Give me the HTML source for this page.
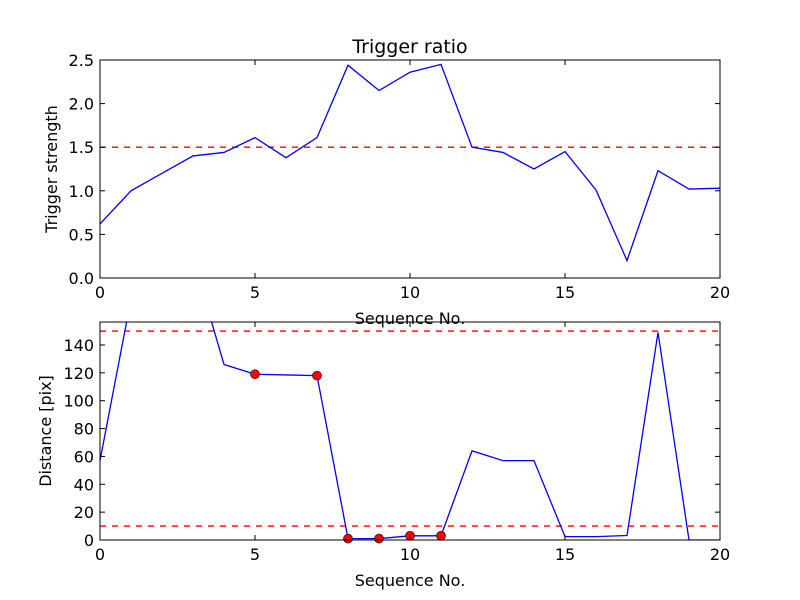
<!DOCTYPE html>
<html><head><meta charset="utf-8"><style>
body{margin:0;background:#fff;}
svg{display:block;font-family:"DejaVu Sans","Liberation Sans",sans-serif;}
</style></head><body>
<svg id="chart" width="800" height="600" xmlns="http://www.w3.org/2000/svg">
<rect width="800" height="600" fill="#fff"/>
</svg>
<script>
const seq = [0,1,2,3,4,5,6,7,8,9,10,11,12,13,14,15,16,17,18,19,20];
const triggerStrength = [0.62,1.0,1.2,1.4,1.44,1.61,1.38,1.61,2.44,2.15,2.36,2.45,1.5,1.44,1.25,1.45,1.01,0.2,1.23,1.02,1.03];
const triggerThreshold = 1.5;
const distance = [57,173,190,202,126,119,118.5,118,1,1,3,3,64,57,57,2.4,2.4,3.2,149,0,0];
const distanceMarked = [5,7,8,9,10,11];
const distanceThresholds = [150,10];
const xTicks = [0,5,10,15,20];
const topYTicks = [0,0.5,1.0,1.5,2.0,2.5];
const botYTicks = [0,20,40,60,80,100,120,140];

const NS='http://www.w3.org/2000/svg';
const svg=document.getElementById('chart');
function mk(tag,attrs,parent){const e=document.createElementNS(NS,tag);for(const k in attrs)e.setAttribute(k,attrs[k]);(parent||svg).appendChild(e);return e;}

function panel(cfg){
  const L=100,R=720,T=cfg.top,B=cfg.bottom;
  const xs=v=>L+(v-0)/(20-0)*(R-L);
  const ys=v=>B-(v-cfg.ymin)/(cfg.ymax-cfg.ymin)*(B-T);
  const g=mk('g',{});
  
  
  const cid='clip-'+cfg.name;
  const cp=mk('clipPath',{id:cid},g);mk('rect',{x:L,y:T,width:R-L,height:B-T},cp);
  const plot=mk('g',{'clip-path':'url(#'+cid+')'},g);
  cfg.thresholds.forEach(t=>{
    const l=mk('line',{x1:L,x2:R,y1:ys(t),y2:ys(t),stroke:'#ff0000','stroke-width':1.3,'stroke-dasharray':'6,6'},plot);
    
    
  });
  const pts=cfg.data.map((v,i)=>xs(seq[i])+','+ys(v)).join(' ');
  const pl=mk('polyline',{points:pts,fill:'none',stroke:'#0000ff','stroke-width':1.3},plot);
  
  
  (cfg.marked||[]).forEach(i=>{
    const c=mk('circle',{cx:xs(seq[i]),cy:ys(cfg.data[i]),r:4.5,fill:'#ff0000',stroke:'#000','stroke-width':0.6},g);
    
    
  });
  const fr=mk('rect',{x:L,y:T,width:R-L,height:B-T,fill:'none',stroke:'#000','stroke-width':1},g);
  
  
  xTicks.forEach(t=>{
    const x=xs(t);
    mk('line',{x1:x,x2:x,y1:B,y2:B-5,stroke:'#000'},g);
    mk('line',{x1:x,x2:x,y1:T,y2:T+5,stroke:'#000'},g);
    const tx=mk('text',{x:x,y:B+20,'font-size':16,'text-anchor':'middle'},g);
    tx.textContent=t;
    
    
  });
  cfg.yticks.forEach(t=>{
    const y=ys(t);
    mk('line',{x1:L,x2:L+5,y1:y,y2:y,stroke:'#000'},g);
    mk('line',{x1:R,x2:R-5,y1:y,y2:y,stroke:'#000'},g);
    const tx=mk('text',{x:L-6,y:y+6,'font-size':16,'text-anchor':'end'},g);
    tx.textContent=cfg.fmt(t);
    
    
  });
  const xl=mk('text',{x:410,y:B+46,'font-size':16,'text-anchor':'middle'},g);
  xl.textContent='Sequence No.';
  
  
  const cy=(T+B)/2;
  const yl=mk('text',{x:cfg.ylx,y:cy,'font-size':16,'text-anchor':'middle',transform:'rotate(-90 '+cfg.ylx+' '+cy+')'},g);
  yl.textContent=cfg.ylabel;
  
  
  if(cfg.title){
    const ti=mk('text',{x:410,y:T-7,'font-size':19,'text-anchor':'middle'},g);
    ti.textContent=cfg.title;
    
    
  }
}
panel({name:'trigger-panel',top:60,bottom:278,ymin:0,ymax:2.5,data:triggerStrength,thresholds:[triggerThreshold],yticks:topYTicks,fmt:v=>v.toFixed(1),ylabel:'Trigger strength',ylx:57,title:'Trigger ratio'});
panel({name:'distance-panel',top:322,bottom:540,ymin:0,ymax:156.5,data:distance,thresholds:distanceThresholds,marked:distanceMarked,yticks:botYTicks,fmt:v=>String(v),ylabel:'Distance [pix]',ylx:51});
</script>
</body></html>
